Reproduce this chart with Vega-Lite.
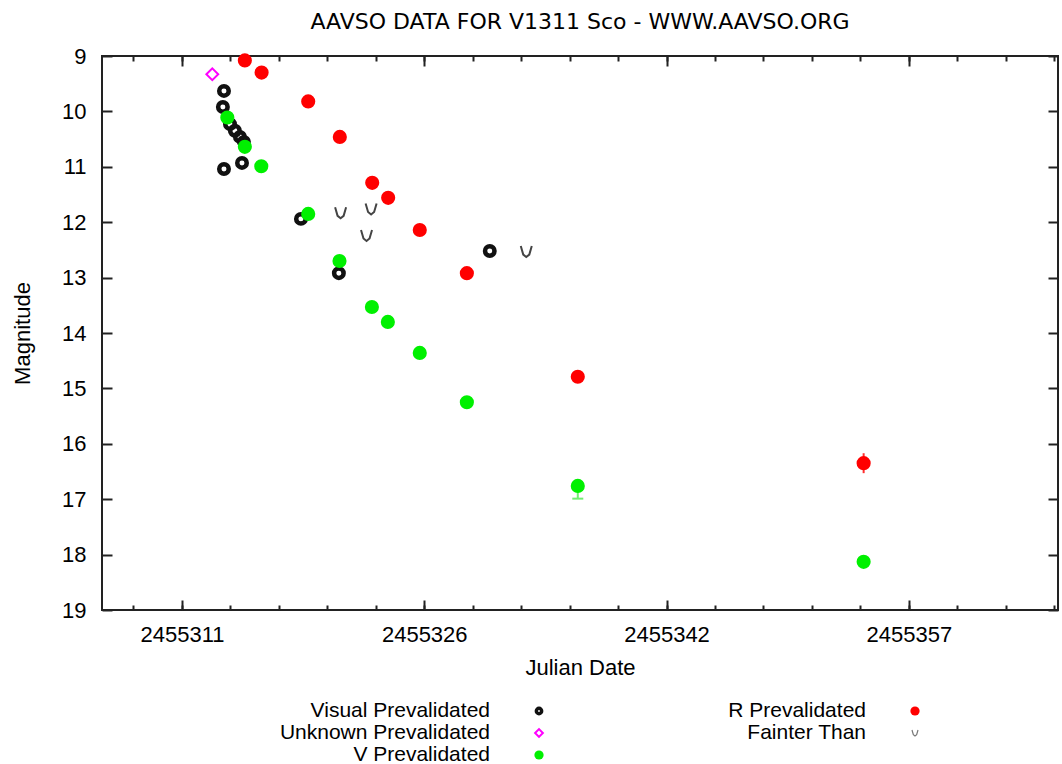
{
  "$schema": "https://vega.github.io/schema/vega-lite/v6.json",
  "padding": {"left": 10, "top": 10, "right": 2, "bottom": 0},
  "background": "white",
  "datasets": {
    "obs": [
      {"jd": 2455313.66, "mag": 9.63, "band": "Vis"},
      {"jd": 2455313.59, "mag": 9.92, "band": "Vis"},
      {"jd": 2455314.04, "mag": 10.23, "band": "Vis"},
      {"jd": 2455314.35, "mag": 10.35, "band": "Vis"},
      {"jd": 2455314.67, "mag": 10.46, "band": "Vis"},
      {"jd": 2455314.92, "mag": 10.55, "band": "Vis"},
      {"jd": 2455314.80, "mag": 10.93, "band": "Vis"},
      {"jd": 2455313.66, "mag": 11.04, "band": "Vis"},
      {"jd": 2455318.53, "mag": 11.94, "band": "Vis"},
      {"jd": 2455320.93, "mag": 12.92, "band": "Vis"},
      {"jd": 2455330.48, "mag": 12.52, "band": "Vis"},
      {"jd": 2455312.92, "mag": 9.33, "band": "Unknown"},
      {"jd": 2455313.87, "mag": 10.11, "band": "V"},
      {"jd": 2455314.98, "mag": 10.64, "band": "V"},
      {"jd": 2455316.02, "mag": 10.99, "band": "V"},
      {"jd": 2455318.99, "mag": 11.85, "band": "V"},
      {"jd": 2455320.97, "mag": 12.70, "band": "V"},
      {"jd": 2455323.02, "mag": 13.53, "band": "V"},
      {"jd": 2455324.03, "mag": 13.80, "band": "V"},
      {"jd": 2455326.05, "mag": 14.36, "band": "V"},
      {"jd": 2455329.03, "mag": 15.25, "band": "V"},
      {"jd": 2455336.05, "mag": 16.76, "band": "V"},
      {"jd": 2455354.14, "mag": 18.13, "band": "V"},
      {"jd": 2455314.98, "mag": 9.08, "band": "R"},
      {"jd": 2455316.04, "mag": 9.30, "band": "R"},
      {"jd": 2455318.99, "mag": 9.82, "band": "R"},
      {"jd": 2455320.99, "mag": 10.46, "band": "R"},
      {"jd": 2455323.04, "mag": 11.29, "band": "R"},
      {"jd": 2455324.05, "mag": 11.56, "band": "R"},
      {"jd": 2455326.05, "mag": 12.14, "band": "R"},
      {"jd": 2455329.03, "mag": 12.92, "band": "R"},
      {"jd": 2455336.05, "mag": 14.79, "band": "R"},
      {"jd": 2455354.14, "mag": 16.35, "band": "R"},
      {"jd": 2455321.04, "mag": 11.83, "band": "Fainter"},
      {"jd": 2455322.97, "mag": 11.76, "band": "Fainter"},
      {"jd": 2455322.68, "mag": 12.24, "band": "Fainter"},
      {"jd": 2455332.79, "mag": 12.53, "band": "Fainter"}
    ],
    "err": [
      {"jd": 2455354.14, "lo": 16.17, "hi": 16.53, "band": "R"},
      {"jd": 2455336.05, "lo": 16.76, "hi": 16.99, "band": "V"}
    ],
    "legend": [
      {"series": "Visual Prevalidated", "col": "left", "row": "1"},
      {"series": "Unknown Prevalidated", "col": "left", "row": "2"},
      {"series": "V Prevalidated", "col": "left", "row": "3"},
      {"series": "R Prevalidated", "col": "right", "row": "1"},
      {"series": "Fainter Than", "col": "right", "row": "2"}
    ]
  },
  "vconcat": [
    {
      "width": 956,
      "height": 554,
      "title": {"text": "AAVSO DATA FOR V1311 Sco - WWW.AAVSO.ORG", "font": "DejaVu Sans", "fontSize": 22, "fontWeight": "normal", "color": "#000", "anchor": "middle", "offset": 11},
      "view": {"stroke": "#222", "strokeWidth": 2},
      "layer": [
        {
          "data": {"name": "err"},
          "transform": [{"filter": "datum.band === 'R'"}],
          "mark": {"type": "rule", "color": "#ff3030", "strokeWidth": 2},
          "encoding": {
            "x": {"field": "jd", "type": "quantitative", "scale": {"domain": [2455305.94, 2455366.44], "nice": false, "zero": false}, "axis": null},
            "y": {"field": "lo", "type": "quantitative", "scale": {"domain": [9, 19], "reverse": true, "nice": false, "zero": false}, "axis": null},
            "y2": {"field": "hi"}
          }
        },
        {
          "data": {"name": "err"},
          "transform": [{"filter": "datum.band === 'V'"}],
          "mark": {"type": "rule", "color": "#70ee70", "strokeWidth": 2},
          "encoding": {
            "x": {"field": "jd", "type": "quantitative", "scale": {"domain": [2455305.94, 2455366.44], "nice": false, "zero": false}, "axis": null},
            "y": {"field": "lo", "type": "quantitative", "scale": {"domain": [9, 19], "reverse": true, "nice": false, "zero": false}, "axis": null},
            "y2": {"field": "hi"}
          }
        },
        {
          "data": {"name": "err"},
          "transform": [{"filter": "datum.band === 'V'"}],
          "mark": {"type": "point", "shape": "M-1,0L1,0", "filled": false, "stroke": "#70ee70", "strokeWidth": 2, "size": 121, "opacity": 1},
          "encoding": {
            "x": {"field": "jd", "type": "quantitative", "scale": {"domain": [2455305.94, 2455366.44], "nice": false, "zero": false}, "axis": null},
            "y": {"field": "hi", "type": "quantitative", "scale": {"domain": [9, 19], "reverse": true, "nice": false, "zero": false}, "axis": null}
          }
        },
        {
          "data": {"name": "obs"},
          "transform": [{"filter": "datum.band === 'Vis'"}],
          "mark": {"type": "point", "shape": "circle", "filled": false, "stroke": "#111", "strokeWidth": 4.5, "size": 90, "opacity": 1},
          "encoding": {
            "x": {"field": "jd", "type": "quantitative", "scale": {"domain": [2455305.94, 2455366.44], "nice": false, "zero": false},
                  "axis": {"orient": "bottom", "values": [2455311, 2455326.3333, 2455341.6667, 2455357], "format": ".0f", "tickSize": -10, "labelPadding": 24, "title": "Julian Date", "titlePadding": 12}},
            "y": {"field": "mag", "type": "quantitative", "scale": {"domain": [9, 19], "reverse": true, "nice": false, "zero": false},
                  "axis": {"orient": "left", "values": [9, 10, 11, 12, 13, 14, 15, 16, 17, 18, 19], "tickSize": -10, "labelPadding": 26, "title": "Magnitude", "titlePadding": 27}}
          }
        },
        {
          "data": {"name": "obs"},
          "transform": [{"filter": "datum.band === 'Unknown'"}],
          "mark": {"type": "point", "shape": "diamond", "filled": false, "stroke": "#ff00ff", "strokeWidth": 2, "size": 140, "opacity": 1},
          "encoding": {
            "x": {"field": "jd", "type": "quantitative", "scale": {"domain": [2455305.94, 2455366.44], "nice": false, "zero": false},
                  "axis": {"orient": "bottom", "values": [2455307.9333, 2455311, 2455314.0667, 2455317.1333, 2455320.2, 2455323.2667, 2455326.3333, 2455329.4, 2455332.4667, 2455335.5333, 2455338.6, 2455341.6667, 2455344.7333, 2455347.8, 2455350.8667, 2455353.9333, 2455357, 2455360.0667, 2455363.1333, 2455366.2], "labels": false, "tickSize": -5, "title": null}},
            "y": {"field": "mag", "type": "quantitative", "scale": {"domain": [9, 19], "reverse": true, "nice": false, "zero": false},
                  "axis": {"orient": "right", "values": [9, 10, 11, 12, 13, 14, 15, 16, 17, 18, 19], "labels": false, "tickSize": -10, "title": null}}
          }
        },
        {
          "data": {"name": "obs"},
          "transform": [{"filter": "datum.band === 'V'"}],
          "mark": {"type": "point", "shape": "circle", "filled": true, "color": "#00f000", "size": 200, "opacity": 1},
          "encoding": {
            "x": {"field": "jd", "type": "quantitative", "scale": {"domain": [2455305.94, 2455366.44], "nice": false, "zero": false},
                  "axis": {"orient": "top", "values": [2455311, 2455326.3333, 2455341.6667, 2455357], "labels": false, "tickSize": -10, "title": null}},
            "y": {"field": "mag", "type": "quantitative", "scale": {"domain": [9, 19], "reverse": true, "nice": false, "zero": false}, "axis": null}
          }
        },
        {
          "data": {"name": "obs"},
          "transform": [{"filter": "datum.band === 'R'"}],
          "mark": {"type": "point", "shape": "circle", "filled": true, "color": "#ff0000", "size": 200, "opacity": 1},
          "encoding": {
            "x": {"field": "jd", "type": "quantitative", "scale": {"domain": [2455305.94, 2455366.44], "nice": false, "zero": false},
                  "axis": {"orient": "top", "values": [2455307.9333, 2455311, 2455314.0667, 2455317.1333, 2455320.2, 2455323.2667, 2455326.3333, 2455329.4, 2455332.4667, 2455335.5333, 2455338.6, 2455341.6667, 2455344.7333, 2455347.8, 2455350.8667, 2455353.9333, 2455357, 2455360.0667, 2455363.1333, 2455366.2], "labels": false, "tickSize": -5, "title": null}},
            "y": {"field": "mag", "type": "quantitative", "scale": {"domain": [9, 19], "reverse": true, "nice": false, "zero": false}, "axis": null}
          }
        },
        {
          "data": {"name": "obs"},
          "transform": [{"filter": "datum.band === 'Fainter'"}],
          "mark": {"type": "point", "shape": "M-1,-1L-0.55,0.55L0,1L0.55,0.55L1,-1", "filled": false, "stroke": "#444", "strokeWidth": 2, "size": 121, "opacity": 1},
          "encoding": {
            "x": {"field": "jd", "type": "quantitative", "scale": {"domain": [2455305.94, 2455366.44], "nice": false, "zero": false}, "axis": null},
            "y": {"field": "mag", "type": "quantitative", "scale": {"domain": [9, 19], "reverse": true, "nice": false, "zero": false}, "axis": null}
          }
        }
      ],
      "resolve": {"axis": {"x": "independent", "y": "independent"}}
    },
    {
      "width": 956,
      "height": 66,
      "view": {"stroke": null},
      "data": {"name": "legend"},
      "encoding": {
        "x": {"field": "col", "type": "nominal", "scale": {"type": "point", "domain": ["left", "right"], "range": [437, 813], "padding": 0}, "axis": null},
        "y": {"field": "row", "type": "ordinal", "scale": {"type": "point", "domain": ["1", "2", "3"], "padding": 0.5}, "axis": null}
      },
      "layer": [
        {
          "mark": {"type": "text", "align": "right", "baseline": "middle", "dx": -49, "font": "Liberation Sans", "fontSize": 21, "color": "#000"},
          "encoding": {"text": {"field": "series", "type": "nominal"}}
        },
        {
          "transform": [{"filter": "datum.series === 'Visual Prevalidated'"}],
          "mark": {"type": "point", "shape": "circle", "filled": false, "stroke": "#111", "strokeWidth": 3.5, "size": 28, "opacity": 1}
        },
        {
          "transform": [{"filter": "datum.series === 'Unknown Prevalidated'"}],
          "mark": {"type": "point", "shape": "diamond", "filled": false, "stroke": "#ff00ff", "strokeWidth": 2, "size": 60, "opacity": 1}
        },
        {
          "transform": [{"filter": "datum.series === 'V Prevalidated'"}],
          "mark": {"type": "point", "shape": "circle", "filled": true, "color": "#00f000", "size": 85, "opacity": 1}
        },
        {
          "transform": [{"filter": "datum.series === 'R Prevalidated'"}],
          "mark": {"type": "point", "shape": "circle", "filled": true, "color": "#ff0000", "size": 85, "opacity": 1}
        },
        {
          "transform": [{"filter": "datum.series === 'Fainter Than'"}],
          "mark": {"type": "point", "shape": "M-1,-1L-0.55,0.55L0,1L0.55,0.55L1,-1", "filled": false, "stroke": "#777", "strokeWidth": 1.2, "size": 36, "opacity": 1}
        }
      ]
    }
  ],
  "config": {
    "view": {"stroke": null},
    "concat": {"spacing": 21},
    "axis": {
      "grid": false,
      "domain": false,
      "ticks": true,
      "tickColor": "#222",
      "tickWidth": 2,
      "labelFont": "Liberation Sans",
      "labelFontSize": 22,
      "labelColor": "#000",
      "labelOverlap": false,
      "labelFlush": false,
      "labelBound": false,
      "titleFont": "Liberation Sans",
      "titleFontSize": 22,
      "titleFontWeight": "normal",
      "titleColor": "#000"
    }
  }
}
